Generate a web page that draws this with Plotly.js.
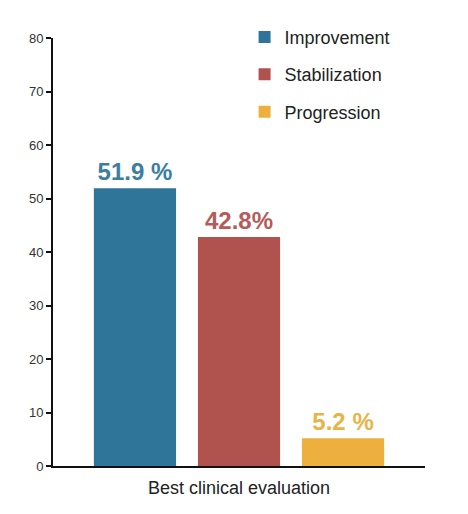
<!DOCTYPE html>
<html>
<head>
<meta charset="utf-8">
<script src="https://cdn.plot.ly/plotly-3.0.1.min.js"></script>
<style>
  html, body { margin: 0; padding: 0; background: #fff; }
  #chart { width: 468px; height: 514px; }
</style>
</head>
<body>
<div id="chart"></div>
<script>
const category = ["Best clinical evaluation"];
const seriesNames = ["Improvement", "Stabilization", "Progression"];
const seriesValues = [51.9, 42.8, 5.2];
const seriesLabels = ["51.9 %", "42.8%", "5.2 %"];
const barColors = ["#2f7499", "#b0524e", "#edb03e"];
const textColors = ["#3a7ea2", "#b35c58", "#e8b447"];

const traces = seriesNames.map((name, i) => ({
    type: "bar",
    name: name,
    x: category,
    y: [seriesValues[i]],
    text: [seriesLabels[i]],
    textposition: "outside",
    cliponaxis: false,
    textfont: {family: "Liberation Sans, Arial, sans-serif", size: 24, color: textColors[i], weight: "bold"},
    marker: {color: barColors[i]},
    legendgroup: "g" + i,
    hoverinfo: "none"
}));

const layout = {
    width: 468,
    height: 514,
    margin: {l: 53, r: 43, t: 38, b: 48},
    paper_bgcolor: "#fff",
    plot_bgcolor: "#fff",
    font: {family: "Liberation Sans, Arial, sans-serif", color: "#222"},
    barmode: "group",
    bargap: 0.161,
    bargroupgap: 0.21,
    showlegend: true,
    legend: {
        x: 0.515, y: 1.045, xanchor: "left", yanchor: "top",
        font: {size: 18, color: "#222"},
        traceorder: "grouped",
        tracegroupgap: 11,
        bgcolor: "rgba(0,0,0,0)"
    },
    xaxis: {
        showline: true, linecolor: "#111", linewidth: 2,
        ticks: "", tickfont: {size: 18, color: "#222"},
        ticklabelstandoff: 4,
        fixedrange: true
    },
    yaxis: {
        range: [0, 80], dtick: 10,
        showline: true, linecolor: "#111", linewidth: 2,
        ticks: "outside", ticklen: 5, tickwidth: 2, tickcolor: "#111",
        tickfont: {size: 13, color: "#333"},
        showgrid: false, zeroline: false,
        fixedrange: true
    }
};

Plotly.newPlot("chart", traces, layout, {displayModeBar: false, staticPlot: true});
</script>
</body>
</html>
